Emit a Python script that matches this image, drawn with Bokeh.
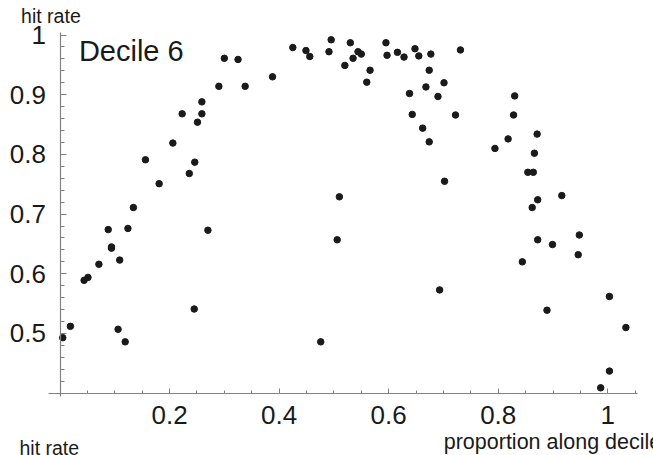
from bokeh.plotting import figure
from bokeh.models import Range1d, FixedTicker, CustomJSTickFormatter, Label
from bokeh.embed import file_html
from bokeh.resources import INLINE

# proportion along decile
prop = [0.005, 0.019, 0.044, 0.051, 0.071, 0.088, 0.094, 0.094, 0.106, 0.109,
        0.119, 0.124, 0.134, 0.156, 0.181, 0.206, 0.223, 0.236, 0.245, 0.246,
        0.251, 0.259, 0.259, 0.270, 0.290, 0.300, 0.325, 0.338, 0.388, 0.425,
        0.449, 0.456, 0.476, 0.491, 0.495, 0.506, 0.510, 0.520, 0.530, 0.535,
        0.544, 0.550, 0.560, 0.566, 0.595, 0.597, 0.616, 0.628, 0.638, 0.643,
        0.648, 0.655, 0.662, 0.668, 0.674, 0.674, 0.677, 0.690, 0.693, 0.701,
        0.702, 0.722, 0.731, 0.794, 0.818, 0.828, 0.830, 0.844, 0.854, 0.862,
        0.864, 0.866, 0.871, 0.872, 0.872, 0.889, 0.899, 0.916, 0.946, 0.948,
        0.987, 1.003, 1.003, 1.033]
# hit rate
hit = [0.493, 0.512, 0.589, 0.594, 0.616, 0.674, 0.645, 0.643, 0.507, 0.623,
       0.486, 0.676, 0.711, 0.791, 0.751, 0.819, 0.868, 0.768, 0.541, 0.787,
       0.854, 0.868, 0.888, 0.673, 0.914, 0.961, 0.959, 0.914, 0.930, 0.979,
       0.974, 0.964, 0.486, 0.972, 0.992, 0.657, 0.729, 0.949, 0.987, 0.961,
       0.972, 0.968, 0.921, 0.941, 0.987, 0.966, 0.971, 0.963, 0.902, 0.867,
       0.977, 0.965, 0.844, 0.913, 0.941, 0.821, 0.968, 0.897, 0.573, 0.920,
       0.755, 0.866, 0.975, 0.810, 0.826, 0.866, 0.898, 0.620, 0.770, 0.711,
       0.770, 0.802, 0.834, 0.724, 0.657, 0.539, 0.649, 0.731, 0.632, 0.665,
       0.409, 0.562, 0.437, 0.510]

x_major_ticks = [0.2, 0.4, 0.6, 0.8, 1.0]
x_minor_ticks = [0.05, 0.1, 0.15, 0.25, 0.3, 0.35, 0.45, 0.5, 0.55, 0.65, 0.7,
                 0.75, 0.85, 0.9, 0.95, 1.05]
y_major_ticks = [0.5, 0.6, 0.7, 0.8, 0.9, 1.0]
y_minor_ticks = [0.42, 0.44, 0.46, 0.48, 0.52, 0.54, 0.56, 0.58, 0.62, 0.64,
                 0.66, 0.68, 0.72, 0.74, 0.76, 0.78, 0.82, 0.84, 0.86, 0.88,
                 0.92, 0.94, 0.96, 0.98]

panel_title = "Decile 6"
y_title = "hit rate"
x_title = "proportion along decile"

FONT = "Liberation Sans"
AXIS_GREY = "#808080"
INK = "#1a1a1a"

# the frame fills the whole canvas; the axes are drawn at fixed data locations
p = figure(width=653, height=455, output_backend="svg", toolbar_location=None,
           x_range=Range1d(-0.10862, 1.08343), y_range=Range1d(0.29564, 1.05779),
           min_border_left=0, min_border_right=0, min_border_top=0,
           min_border_bottom=0)
p.outline_line_color = None
p.grid.visible = False
p.background_fill_color = "white"
p.border_fill_color = "white"

fmt = CustomJSTickFormatter(code="return String(Math.round(tick*100)/100);")

for ax, major, minor, tin, tmin in ((p.xaxis[0], x_major_ticks, x_minor_ticks, 5, 3),
                                     (p.yaxis[0], y_major_ticks, y_minor_ticks, 6, 4)):
    ax.ticker = FixedTicker(ticks=major, minor_ticks=minor)
    ax.formatter = fmt
    ax.axis_line_color = AXIS_GREY
    ax.axis_line_width = 1.2
    ax.major_tick_line_color = AXIS_GREY
    ax.minor_tick_line_color = AXIS_GREY
    ax.major_tick_in = tin
    ax.major_tick_out = 0
    ax.minor_tick_in = tmin
    ax.minor_tick_out = 0
    ax.major_label_text_font = FONT
    ax.major_label_text_font_size = "26px"
    ax.major_label_text_color = INK

p.xaxis[0].major_label_standoff = 13
p.yaxis[0].major_label_standoff = 14
p.xaxis[0].fixed_location = 0.4
p.xaxis[0].bounds = (-0.0219, 1.0551)
p.yaxis[0].fixed_location = 0.0
p.yaxis[0].bounds = (0.3945, 1.0047)

p.scatter(prop, hit, size=6.5, color=INK)

p.add_layout(Label(x=-0.071, y=1.0326, text=y_title, text_font=FONT,
                   text_font_size="19.5px", text_color=INK,
                   text_baseline="alphabetic", text_align="left"))
p.add_layout(Label(x=0.0345, y=0.9733, text=panel_title, text_font=FONT,
                   text_font_size="29px", text_color=INK,
                   text_baseline="alphabetic", text_align="left"))
p.add_layout(Label(x=0.7005, y=0.3182, text=x_title, text_font=FONT,
                   text_font_size="21.5px", text_color=INK,
                   text_baseline="alphabetic", text_align="left"))
p.add_layout(Label(x=-0.074, y=0.3074, text=y_title, text_font=FONT,
                   text_font_size="19.5px", text_color=INK,
                   text_baseline="alphabetic", text_align="left"))

open("out.html", "w").write(file_html(p, INLINE))
